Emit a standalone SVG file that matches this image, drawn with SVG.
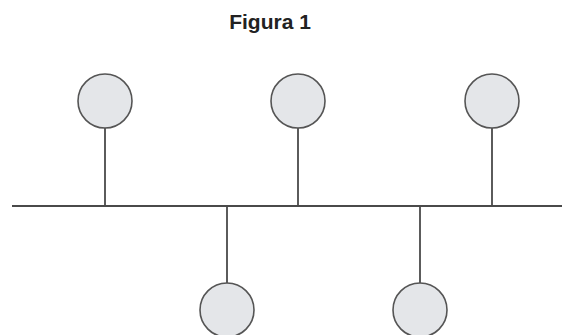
<svg xmlns="http://www.w3.org/2000/svg" width="562" height="335" viewBox="0 0 562 335">
<style>
.node{fill:#e4e6e9;stroke:#555;stroke-width:1.6}
.wire{stroke:#4a4a4a;stroke-width:1.8;fill:none}
.title{font-family:"Liberation Sans",Arial,sans-serif;font-weight:bold;font-size:21px;fill:#222}
</style>
<rect width="562" height="335" fill="#fff"/>
<text class="title" x="270" y="29" text-anchor="middle">Figura 1</text>
<g id="connectors">
<line class="wire" x1="12" y1="206" x2="562" y2="206"/>
<line class="wire" x1="105" y1="128" x2="105" y2="206"/>
<line class="wire" x1="298" y1="128" x2="298" y2="206"/>
<line class="wire" x1="492" y1="128" x2="492" y2="206"/>
<line class="wire" x1="227" y1="206" x2="227" y2="283"/>
<line class="wire" x1="420" y1="206" x2="420" y2="283"/>
</g>
<g id="node1"><circle class="node" cx="105" cy="101" r="27"/></g>
<g id="node2"><circle class="node" cx="298" cy="101" r="27"/></g>
<g id="node3"><circle class="node" cx="492" cy="101" r="27"/></g>
<g id="node4"><circle class="node" cx="227" cy="310" r="27"/></g>
<g id="node5"><circle class="node" cx="420" cy="310" r="27"/></g>
</svg>
